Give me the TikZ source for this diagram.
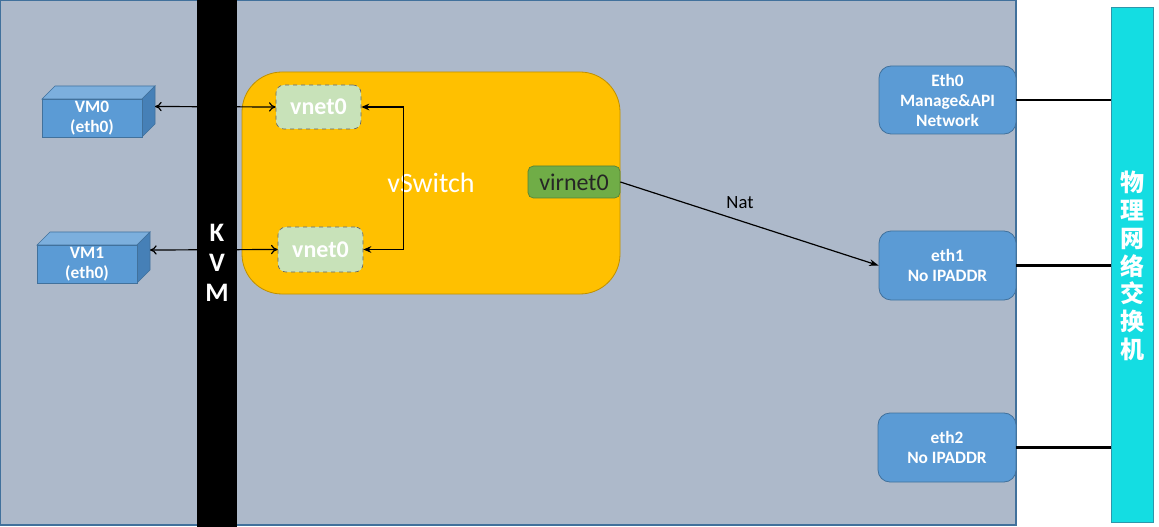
\documentclass[tikz,border=0pt]{standalone}
\usepackage{fontspec}
\setmainfont{Carlito}
\newfontfamily\cjk{Noto Sans CJK SC}
\usetikzlibrary{arrows.meta,fit}
\definecolor{hostgray}{RGB}{173,185,202}
\definecolor{hostline}{RGB}{65,113,156}
\definecolor{bluefill}{RGB}{91,155,213}
\definecolor{bluetop}{RGB}{124,175,221}
\definecolor{blueside}{RGB}{70,128,183}
\definecolor{orangefill}{RGB}{255,192,0}
\definecolor{orangeline}{RGB}{191,144,0}
\definecolor{greenlight}{RGB}{200,226,185}
\definecolor{greendark}{RGB}{112,173,71}
\definecolor{greenline}{RGB}{84,130,53}
\definecolor{cyanfill}{RGB}{20,221,226}
\definecolor{cyanline}{RGB}{46,150,170}
\begin{document}
\begin{tikzpicture}[x=0.75pt,y=-0.75pt,
  fitbox/.style={inner sep=0pt},
  txt/.style={inner sep=0pt, align=center},
  hostbox/.style={fitbox, draw=hostline, fill=hostgray, line width=0.8pt},
  kvmbar/.style={fitbox, fill=black},
  kvmtext/.style={txt, text=white, font=\fontsize{20}{22.5}\selectfont\bfseries},
  switchbox/.style={fitbox, draw=orangeline, fill=orangefill, rounded corners=30pt, line width=0.6pt},
  switchtext/.style={txt, text=white, font=\fontsize{21}{25}\selectfont},
  vnetbox/.style={fitbox, draw=black!60, dashed, fill=greenlight, rounded corners=6pt, line width=0.5pt},
  vnettext/.style={txt, text=white, font=\fontsize{18}{20}\selectfont\bfseries},
  virbox/.style={fitbox, draw=greenline, fill=greendark, rounded corners=4pt, line width=0.5pt},
  virtext/.style={txt, text=black!85, font=\fontsize{18}{20}\selectfont},
  ethbox/.style={fitbox, draw=hostline, fill=bluefill, rounded corners=9pt, line width=0.6pt},
  bluetext/.style={txt, text=white, font=\fontsize{13}{15}\selectfont\bfseries},
  vmfront/.style={fitbox, draw=hostline, fill=bluefill, line width=0.5pt},
  vmface/.style={draw=hostline, line width=0.5pt},
  physw/.style={fitbox, draw=cyanline, fill=cyanfill, line width=0.6pt},
  phystext/.style={txt, text=white, font=\cjk\fontsize{18}{20.8}\selectfont\bfseries},
  link/.style={line width=0.9pt, black},
  uplink/.style={line width=2.2pt, black},
  vmarrow/.style={link, {To[length=5pt,width=7pt]}-{To[length=5pt,width=7pt]}},
  sarrow/.style={link, {Stealth[length=6pt,width=5pt]}-{Stealth[length=6pt,width=5pt]}},
  natarrow/.style={link, -{Stealth[length=7pt,width=5pt]}}
]
\useasboundingbox (0,0) rectangle (1159,527);
\fill[white] (0,0) rectangle (1159,527);
\node[hostbox, fit={(0.6,0.6)(1016,525)}] (host) {};

% VM boxes (3D)
\fill[bluetop] (42,99) -- (55,86) -- (155,86) -- (142,99) -- cycle;
\draw[vmface] (42,99) -- (55,86) -- (155,86) -- (142,99) -- cycle;
\fill[blueside] (142,99) -- (155,86) -- (155,124) -- (142,137) -- cycle;
\draw[vmface] (142,99) -- (155,86) -- (155,124) -- (142,137) -- cycle;
\node[vmfront, fit={(42,99)(142,137)}, label={[bluetext]center:VM0\\(eth0)}] (vm0) {};
\coordinate (vm0r) at (155,106.5);

\fill[bluetop] (37,245) -- (50,232) -- (150,232) -- (137,245) -- cycle;
\draw[vmface] (37,245) -- (50,232) -- (150,232) -- (137,245) -- cycle;
\fill[blueside] (137,245) -- (150,232) -- (150,270) -- (137,283) -- cycle;
\draw[vmface] (137,245) -- (150,232) -- (150,270) -- (137,283) -- cycle;
\node[vmfront, fit={(37,245)(137,283)}, label={[bluetext]center:VM1\\(eth0)}] (vm1) {};
\coordinate (vm1r) at (150,250);

% vSwitch
\node[switchbox, fit={(242,72)(620,294)}, label={[switchtext]center:vSwitch}] (vswitch) {};
\node[vnetbox, fit={(276,85)(361,129)}, label={[vnettext]center:vnet0}] (vnetA) {};
\node[vnetbox, fit={(278,227)(363,272)}, label={[vnettext]center:vnet0}] (vnetB) {};
\node[virbox, fit={(528,166)(620,198)}, label={[virtext]center:virnet0}] (virnet) {};

% connectors VM <-> vnet
\draw[vmarrow] (vm0r) -- (vnetA.west);
\draw[vmarrow] (vm1r) -- (vnetB.west);

% KVM bar
\node[kvmbar, fit={(197,0)(237,527)}] (kvm) {};
\node[kvmtext] (kvmlabel) at (217,263) {K\\V\\M};

% vnet <-> vnet
\draw[sarrow] (vnetA.east) -- ++(42,0) |- (vnetB.east);

% eth boxes
\node[ethbox, fit={(879,66)(1016,134)}, label={[bluetext]center:Eth0\\Manage\&API\\Network}] (eth0) {};
\node[ethbox, fit={(879,231)(1016,300)}, label={[bluetext]center:eth1\\No IPADDR}] (eth1) {};
\node[ethbox, fit={(878,413)(1016,482)}, label={[bluetext]center:eth2\\No IPADDR}] (eth2) {};

% NAT
\draw[natarrow] (virnet.east) -- (eth1.west);
\node[font=\fontsize{14}{16}\selectfont] (nat) at (740,203) {Nat};

% physical switch
\node[physw, fit={(1111,7)(1153,522)}] (sw) {};
\node[phystext] (swlabel) at (1132,266) {物\\理\\网\\络\\交\\换\\机};

\draw[uplink] (eth0.east) -- (eth0.east -| sw.west);
\draw[uplink] (eth1.east) -- (eth1.east -| sw.west);
\draw[uplink] (eth2.east) -- (eth2.east -| sw.west);
\end{tikzpicture}
\end{document}
